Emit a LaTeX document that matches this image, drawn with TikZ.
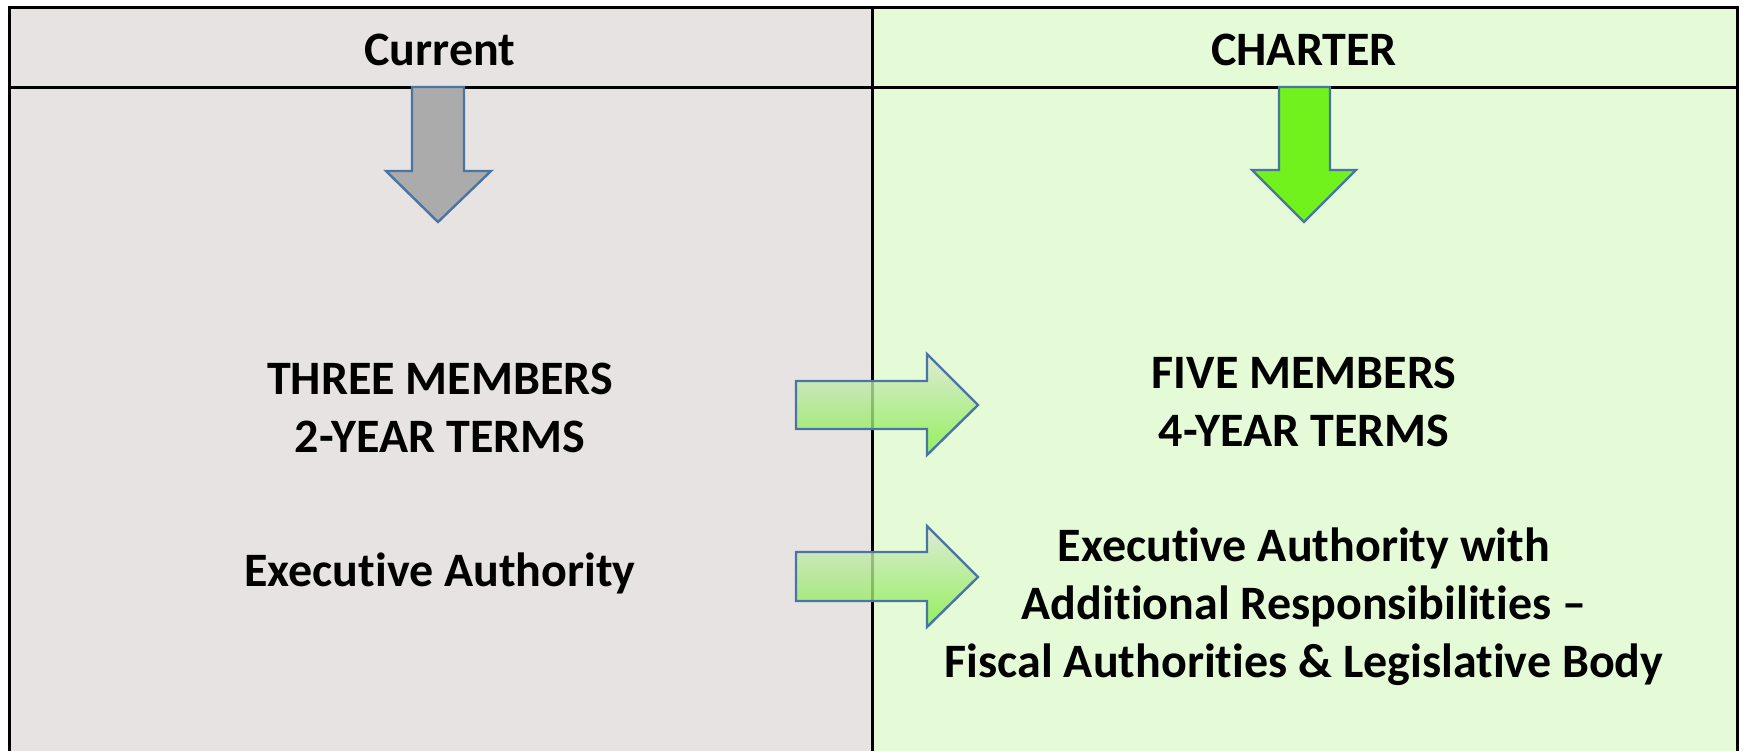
\documentclass[tikz,border=0pt]{standalone}
\usepackage{fontspec}
\setmainfont[RawFeature={-liga}]{Carlito}
\definecolor{leftbg}{HTML}{E7E3E3}
\definecolor{rightbg}{HTML}{E5FBD8}
\definecolor{arrowedge}{HTML}{4A74A2}
\definecolor{grayfill}{HTML}{ABABAB}
\definecolor{greenfill}{HTML}{72F21C}
\definecolor{gradtop}{HTML}{DDE6D6}
\definecolor{gradbot}{HTML}{80EE40}
\tikzset{
  lbl/.style={font=\fontsize{24}{29}\selectfont\bfseries, align=center, text=black},
  downarrow/.style={draw=arrowedge, line width=1.2pt, line join=miter},
  rightarrow/.style={draw=arrowedge, line width=1.2pt, top color=gradtop, bottom color=gradbot, fill opacity=0.8},
  frame/.style={draw=black, line width=1.5pt}
}
\begin{document}
\begin{tikzpicture}[x=0.5pt, y=-0.5pt]
\useasboundingbox (0,0) rectangle (1743,751);
% backgrounds
\fill[leftbg] (9,7) rectangle (872,751);
\fill[rightbg] (872,7) rectangle (1737,751);
% frame
\draw[frame] (9,751) -- (9,7) -- (1737,7) -- (1737,751);
\draw[frame] (9,87) -- (1737,87);
\draw[frame] (872,7) -- (872,751);
% headers
\node[lbl] (hcur) at (440,50) {Current};
\node[lbl] (hcha) at (1304,50) {CHARTER};
% down arrows
\draw[downarrow, fill=grayfill] (412,87) -- (464,87) -- (464,171) -- (491,171) -- (438,222) -- (386,171) -- (412,171) -- cycle;
\draw[downarrow, fill=greenfill] (1279,87) -- (1330,87) -- (1330,170) -- (1356,170) -- (1304,222) -- (1252,170) -- (1279,170) -- cycle;
% texts
\node[lbl] (cur1) at (440,408) {THREE MEMBERS\\2-YEAR TERMS};
\node[lbl] (cur2) at (440,573) {Executive Authority};
\node[lbl] (new1) at (1304,402) {FIVE MEMBERS\\4-YEAR TERMS};
\node[lbl] (new2) at (1304,607) {Executive Authority with\\Additional Responsibilities --\\Fiscal Authorities \& Legislative Body};
% right arrows
\path[rightarrow] (796,381) -- (927,381) -- (927,354) -- (978,405) -- (927,455) -- (927,429) -- (796,429) -- cycle;
\path[rightarrow] (796,552) -- (927,552) -- (927,526) -- (978,577) -- (927,627) -- (927,601) -- (796,601) -- cycle;
\end{tikzpicture}
\end{document}
